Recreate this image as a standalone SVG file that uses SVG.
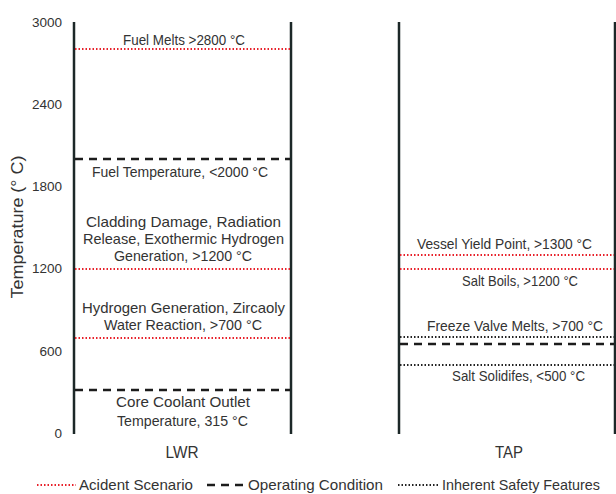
<svg xmlns="http://www.w3.org/2000/svg" width="616" height="494" viewBox="0 0 616 494">
<style>
text{font-family:"Liberation Sans",Arial,sans-serif;fill:#333;}
.lbl{font-size:14.5px;text-anchor:middle;}
.tick{font-size:13.5px;text-anchor:end;}
.col{font-size:17px;text-anchor:middle;}
.leg{font-size:15px;}
.wall{stroke:#1c2828;stroke-width:2.5;fill:none;}
.acc{stroke:#e8202a;stroke-width:2;stroke-dasharray:1.5 2;fill:none;}
.op{stroke:#1c1c1c;stroke-width:2.5;stroke-dasharray:8 6;fill:none;}
.inh{stroke:#222;stroke-width:2;stroke-dasharray:1.5 2;fill:none;}
</style>
<rect width="616" height="494" fill="#fff"/>
<g id="axis">
<text class="tick" x="62" y="27">3000</text>
<text class="tick" x="62" y="109">2400</text>
<text class="tick" x="62" y="191">1800</text>
<text class="tick" x="62" y="273">1200</text>
<text class="tick" x="62" y="356">600</text>
<text class="tick" x="62" y="438">0</text>
<text font-size="16" text-anchor="middle" transform="translate(23,227) rotate(-90)" textLength="143" lengthAdjust="spacingAndGlyphs">Temperature (° C)</text>
</g>
<g id="lwr">
<line class="wall" x1="74" y1="22" x2="74" y2="434"/>
<line class="wall" x1="291" y1="22" x2="291" y2="434"/>
<text class="col" x="182" y="458" textLength="33" lengthAdjust="spacingAndGlyphs">LWR</text>
</g>
<g id="tap">
<line class="wall" x1="399" y1="22" x2="399" y2="434"/>
<line class="wall" x1="615" y1="22" x2="615" y2="434"/>
<text class="col" x="509" y="458" textLength="28" lengthAdjust="spacingAndGlyphs">TAP</text>
</g>
<g id="connectors">
<line class="acc" x1="75" y1="49" x2="290" y2="49"/>
<line class="op" x1="75" y1="159" x2="290" y2="159"/>
<line class="acc" x1="75" y1="269" x2="290" y2="269"/>
<line class="acc" x1="75" y1="338" x2="290" y2="338"/>
<line class="op" x1="75" y1="390" x2="290" y2="390"/>
<line class="acc" x1="400" y1="255" x2="614" y2="255"/>
<line class="acc" x1="400" y1="269" x2="614" y2="269"/>
<line class="inh" x1="400" y1="337" x2="614" y2="337"/>
<line class="op" x1="400" y1="344" x2="614" y2="344"/>
<line class="inh" x1="400" y1="365" x2="614" y2="365"/>
</g>
<g id="labels-lwr">
<text class="lbl" x="184" y="45" textLength="122" lengthAdjust="spacingAndGlyphs">Fuel Melts &gt;2800 °C</text>
<text class="lbl" x="180" y="177" textLength="176" lengthAdjust="spacingAndGlyphs">Fuel Temperature, &lt;2000 °C</text>
<text class="lbl" x="183.5" y="227" textLength="195" lengthAdjust="spacingAndGlyphs">Cladding Damage, Radiation</text>
<text class="lbl" x="183.5" y="244" textLength="201" lengthAdjust="spacingAndGlyphs">Release, Exothermic Hydrogen</text>
<text class="lbl" x="183" y="261" textLength="138" lengthAdjust="spacingAndGlyphs">Generation, &gt;1200 °C</text>
<text class="lbl" x="183.5" y="313" textLength="203" lengthAdjust="spacingAndGlyphs">Hydrogen Generation, Zircaoly</text>
<text class="lbl" x="183" y="330" textLength="158" lengthAdjust="spacingAndGlyphs">Water Reaction, &gt;700 °C</text>
<text class="lbl" x="183" y="407" textLength="134" lengthAdjust="spacingAndGlyphs">Core Coolant Outlet</text>
<text class="lbl" x="182.5" y="426" textLength="131" lengthAdjust="spacingAndGlyphs">Temperature, 315 °C</text>
</g>
<g id="labels-tap">
<text class="lbl" x="504.5" y="249" textLength="175" lengthAdjust="spacingAndGlyphs">Vessel Yield Point, &gt;1300 °C</text>
<text class="lbl" x="520" y="286" textLength="116" lengthAdjust="spacingAndGlyphs">Salt Boils, &gt;1200 °C</text>
<text class="lbl" x="515" y="331" textLength="176" lengthAdjust="spacingAndGlyphs">Freeze Valve Melts, &gt;700 °C</text>
<text class="lbl" x="518.5" y="381" textLength="133" lengthAdjust="spacingAndGlyphs">Salt Solidifes, &lt;500 °C</text>
</g>
<g id="legend">
<line class="acc" x1="37" y1="485" x2="76" y2="485"/>
<text class="leg" x="79" y="490" textLength="114" lengthAdjust="spacingAndGlyphs">Acident Scenario</text>
<line class="op" x1="207" y1="485" x2="247" y2="485" stroke-dasharray="8 5"/>
<text class="leg" x="248" y="490" textLength="135" lengthAdjust="spacingAndGlyphs">Operating Condition</text>
<line class="inh" x1="398" y1="485" x2="440" y2="485"/>
<text class="leg" x="442" y="490" textLength="158" lengthAdjust="spacingAndGlyphs">Inherent Safety Features</text>
</g>
</svg>
